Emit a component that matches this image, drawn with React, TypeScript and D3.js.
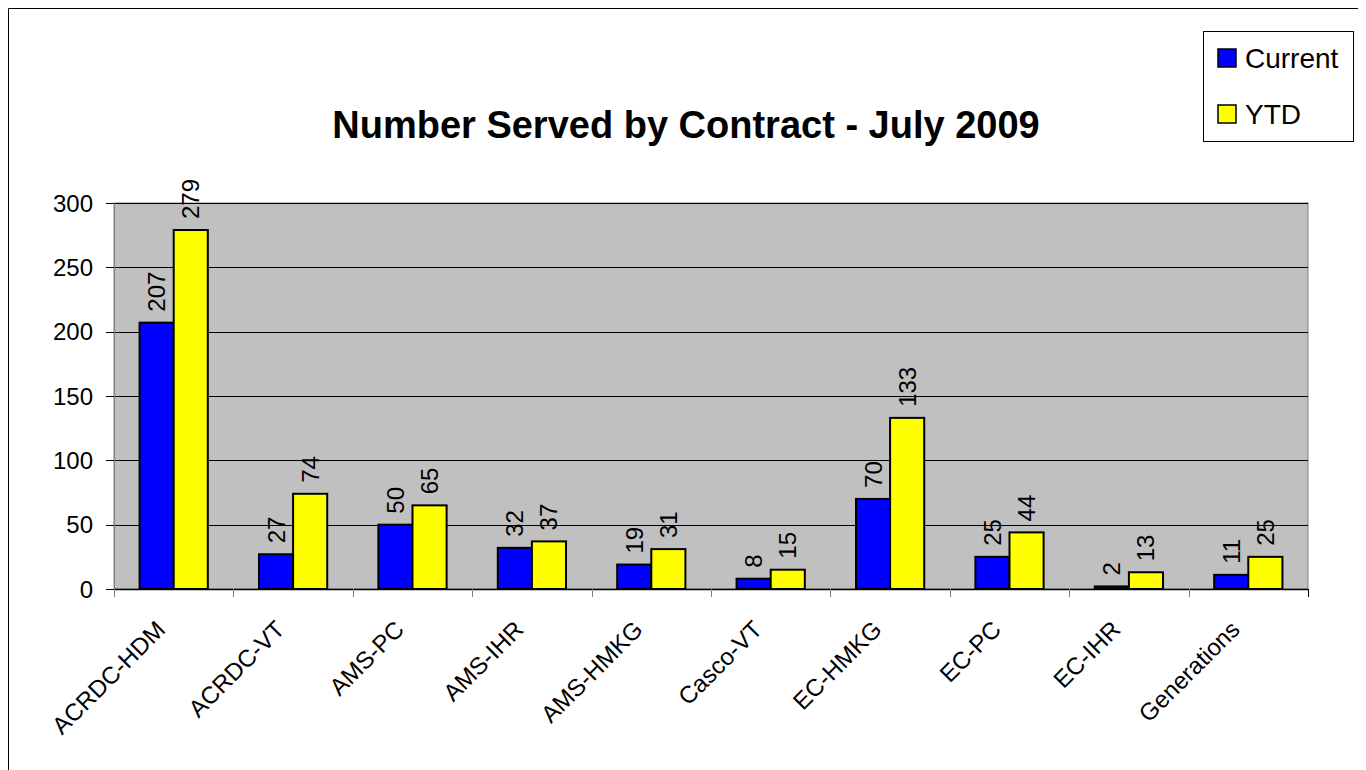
import React, { useEffect } from "react";
import * as d3 from "d3";

const categories = ["ACRDC-HDM", "ACRDC-VT", "AMS-PC", "AMS-IHR", "AMS-HMKG", "Casco-VT", "EC-HMKG", "EC-PC", "EC-IHR", "Generations"];
const currentValues = [207, 27, 50, 32, 19, 8, 70, 25, 2, 11];
const ytdValues = [279, 74, 65, 37, 31, 15, 133, 44, 13, 25];
const seriesNames = ["Current", "YTD"];
const seriesColors = ["#0000FF", "#FFFF00"];
const yTicks = [0, 50, 100, 150, 200, 250, 300];
const title = "Number Served by Contract - July 2009";

const FONT = "'Liberation Sans', Arial, sans-serif";

export default function App() {
  useEffect(() => {
    document.body.style.overflow = "hidden";
  }, []);

  const W = 1358;
  const H = 762;
  // coordinates inside svg (svg sits at page 8,8)
  const plotL = 106, plotR = 1300, plotT = 195, plotB = 581;

  const x = d3.scaleBand<string>().domain(categories).range([plotL, plotR]).padding(0);
  const y = d3.scaleLinear().domain([0, 300]).range([plotB, plotT]);
  const bw = x.bandwidth() / 3.5;
  const off = x.bandwidth() * 0.75 / 3.5;
  const series = [currentValues, ytdValues];

  return (
    <svg width={W} height={H} style={{ display: "block", fontFamily: FONT }}>
      <rect x={0} y={0} width={W} height={H} fill="#fff" />
      <line x1={0.5} y1={0.5} x2={W} y2={0.5} stroke="#000" />
      <line x1={0.5} y1={0.5} x2={0.5} y2={H} stroke="#000" />

      <text x={678} y={130} textAnchor="middle" fontWeight="bold" fontSize={38} fill="#000">{title}</text>

      <rect x={plotL} y={plotT} width={plotR - plotL} height={plotB - plotT} fill="#C0C0C0" stroke="#808080" strokeWidth={1} />
      {yTicks.filter(t => t > 0).map(t => (
        <line key={"g" + t} x1={plotL} x2={plotR} y1={Math.round(y(t)) + 0.5} y2={Math.round(y(t)) + 0.5} stroke="#000" strokeWidth={1} />
      ))}
      {/* y axis */}
      <line x1={plotL + 0.5} x2={plotL + 0.5} y1={plotT} y2={plotB} stroke="#808080" />
      {yTicks.map(t => (
        <g key={"yt" + t}>
          <line x1={plotL - 8} x2={plotL} y1={Math.round(y(t)) + 0.5} y2={Math.round(y(t)) + 0.5} stroke="#000" />
          <text x={plotL - 21} y={y(t)} textAnchor="end" dominantBaseline="central" fontSize={24} fill="#000">{t}</text>
        </g>
      ))}

      {/* bars */}
      {categories.map((c, i) => (
        <g key={"b" + c}>
          {series.map((vals, s) => {
            const bx = (x(c) as number) + off + s * bw;
            const by = y(vals[i]);
            return (
              <g key={s}>
                <rect x={bx} y={by} width={bw} height={plotB - by} fill={seriesColors[s]} stroke="#000" strokeWidth={2} />
                <text transform={`translate(${bx + bw / 2},${by - 11}) rotate(-90)`} textAnchor="start" dominantBaseline="central" fontSize={24} fill="#000">{vals[i]}</text>
              </g>
            );
          })}
        </g>
      ))}

      {/* x axis */}
      <line x1={plotL} x2={plotR} y1={plotB + 0.5} y2={plotB + 0.5} stroke="#000" strokeWidth={1.5} />
      {d3.range(categories.length + 1).map(i => {
        const tx = Math.round(plotL + i * x.bandwidth()) + 0.5;
        return <line key={"xt" + i} x1={tx} x2={tx} y1={plotB} y2={plotB + 8} stroke={i === categories.length ? "#000" : "#808080"} />;
      })}
      {categories.map(c => {
        const cx = (x(c) as number) + x.bandwidth() / 2;
        return (
          <text key={"xl" + c} transform={`translate(${cx - 7},${plotB + 42}) rotate(-45)`} textAnchor="end" fontSize={24} fill="#000">{c}</text>
        );
      })}

      {/* legend */}
      <rect x={1195.5} y={23.5} width={150} height={110} fill="#fff" stroke="#000" />
      {seriesNames.map((n, s) => (
        <g key={"lg" + n}>
          <rect x={1210} y={41 + s * 56} width={18} height={18} fill={seriesColors[s]} stroke="#000" strokeWidth={1.5} />
          <text x={1237} y={60 + s * 56} fontSize={28} fill="#000">{n}</text>
        </g>
      ))}
    </svg>
  );
}
